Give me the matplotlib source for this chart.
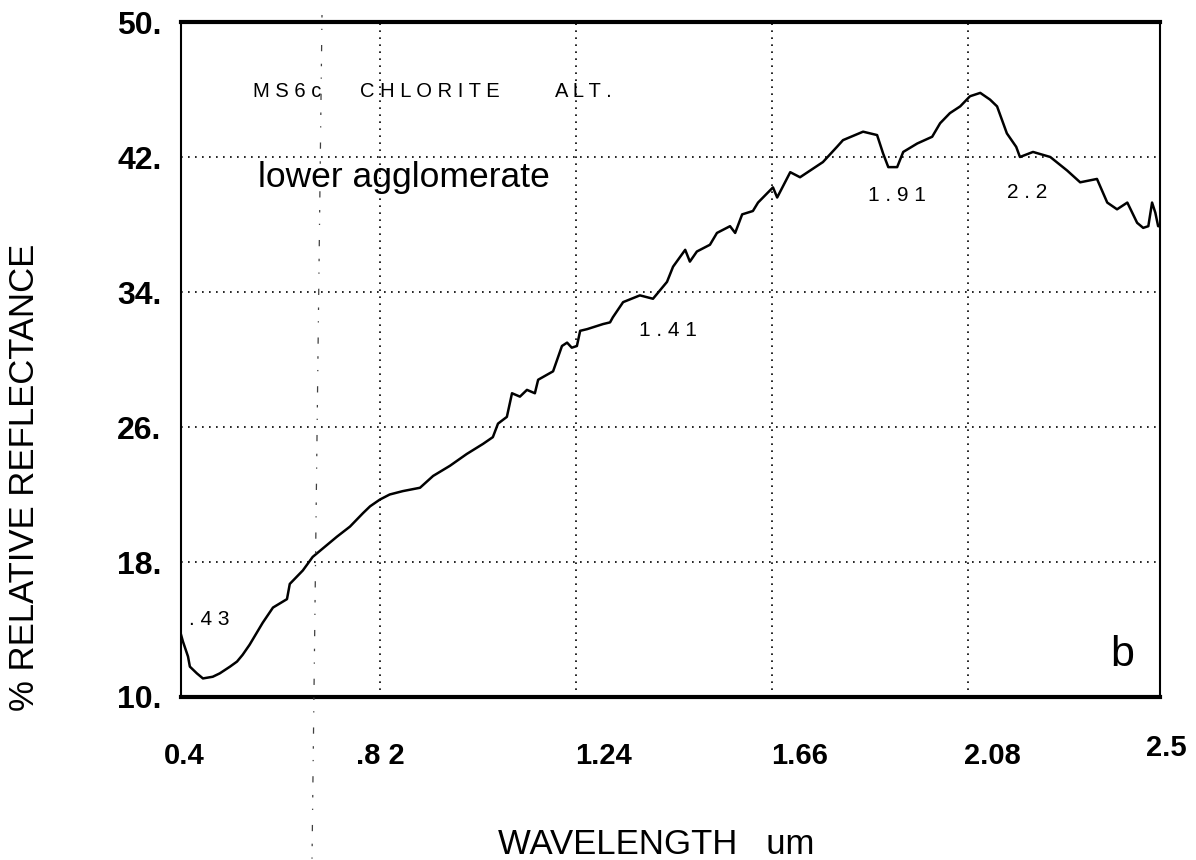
import matplotlib
matplotlib.use("Agg")
import matplotlib.pyplot as plt
from matplotlib.lines import Line2D

plt.rcParams["font.family"] = ["Liberation Sans", "DejaVu Sans"]

# spectrum (wavelength um, % reflectance)
wavelength = [0.394, 0.398, 0.409, 0.413, 0.428, 0.441, 0.462, 0.477, 0.499, 0.514,
              0.526, 0.541, 0.569, 0.591, 0.621, 0.627, 0.655, 0.676, 0.728, 0.756,
              0.784, 0.799, 0.820, 0.841, 0.869, 0.906, 0.934,
              0.970, 1.006, 1.041, 1.062, 1.073, 1.092, 1.103, 1.120, 1.135, 1.152,
              1.159, 1.191, 1.210, 1.221, 1.231, 1.242, 1.249, 1.264, 1.298, 1.313,
              1.319, 1.341, 1.377, 1.405, 1.435, 1.448, 1.474, 1.484, 1.499, 1.527,
              1.542, 1.570, 1.581, 1.596, 1.619, 1.630, 1.662, 1.671, 1.699,
              1.720, 1.769, 1.799, 1.812, 1.855,
              1.885, 1.898, 1.909, 1.928, 1.941, 1.971, 2.003, 2.020, 2.041, 2.063,
              2.084, 2.106, 2.127, 2.142, 2.163, 2.183, 2.191, 2.219, 2.256, 2.292,
              2.320, 2.356, 2.378, 2.399, 2.421, 2.442, 2.455, 2.466, 2.474, 2.481,
              2.487, 2.491]
reflectance = [13.7, 13.3, 12.4, 11.8, 11.4, 11.1, 11.2, 11.4, 11.8, 12.1,
               12.5, 13.1, 14.4, 15.3, 15.8, 16.7, 17.5, 18.3, 19.5, 20.1,
               20.9, 21.3, 21.7, 22.0, 22.2, 22.4, 23.1,
               23.7, 24.4, 25.0, 25.4, 26.2, 26.6, 28.0, 27.8, 28.2, 28.0,
               28.8, 29.3, 30.8, 31.0, 30.7, 30.8, 31.7, 31.8, 32.1, 32.2,
               32.5, 33.4, 33.8, 33.6, 34.6, 35.5, 36.5, 35.8, 36.4, 36.8,
               37.5, 37.9, 37.5, 38.6, 38.8, 39.3, 40.2, 39.6, 41.1,
               40.8, 41.7, 42.6, 43.0, 43.5,
               43.3, 42.2, 41.4, 41.4, 42.3, 42.8, 43.2, 44.0, 44.6, 45.0,
               45.6, 45.8, 45.4, 45.0, 43.4, 42.6, 42.0, 42.3, 42.0, 41.2,
               40.5, 40.7, 39.3, 38.9, 39.3, 38.1, 37.8, 37.9, 39.3, 38.7,
               37.9, 37.9]

x_grid = [0.82, 1.24, 1.66, 2.08]
y_ticks = [10, 18, 26, 34, 42, 50]
y_tick_labels = ["10.", "18.", "26.", "34.", "42.", "50."]
x_tick_labels = ["0.4", ".8 2", "1.24", "1.66", "2.08", "2.5"]
x_tick_at = [0.402, 0.82, 1.298, 1.718, 2.133, 2.504]

# absorption features marked on the plot: label, x, y
features = [(".43", 0.454, 14.6), ("1.41", 1.437, 31.7),
            ("1.91", 1.928, 39.7), ("2.2", 2.206, 39.9)]

fig = plt.figure(figsize=(11.96, 8.6), dpi=100)
ax = fig.add_axes([181 / 1196, 1 - 697 / 860, 979 / 1196, 675 / 860])

ax.plot(wavelength, reflectance, color="black", lw=1.8)

ax.set_xlim(0.394, 2.491)
ax.set_ylim(10, 50)

for xg in x_grid:
    ax.axvline(xg, color="black", lw=1.2, ls=(0, (1, 3.2)))
for yg in y_ticks[1:-1]:
    ax.axhline(yg, color="black", lw=1.2, ls=(0, (1, 3.2)))

ax.set_xticks([])
ax.set_yticks(y_ticks)
ax.set_yticklabels(y_tick_labels, fontsize=23, fontweight="bold")
ax.tick_params(axis="y", length=0, pad=14)

for lab, xt in zip(x_tick_labels, x_tick_at):
    yt = 6.95 if lab == "2.5" else 6.5
    ax.text(xt, yt, lab, ha="center", va="center", fontsize=21,
            fontweight="bold", clip_on=False)

for side in ["top", "bottom"]:
    ax.spines[side].set_linewidth(3.0)
for side in ["left", "right"]:
    ax.spines[side].set_linewidth(1.5)

ax.text(0.548, 45.9, "M S 6 c", ha="left", va="center", fontsize=14.5)
ax.text(0.777, 45.9, "C H L O R I T E", ha="left", va="center", fontsize=14.5)
ax.text(1.195, 45.9, "A L T .", ha="left", va="center", fontsize=14.5)
ax.text(0.559, 40.2, "lower agglomerate", ha="left", va="baseline", fontsize=25.5)

for lab, fx, fy in features:
    ax.text(fx, fy, " ".join(lab), ha="center", va="center", fontsize=15)

ax.text(2.41, 12.5, "b", ha="center", va="center", fontsize=31)

fig.text(25 / 1196, 1 - 477 / 860, "% RELATIVE REFLECTANCE", rotation=90,
         ha="center", va="center", fontsize=25)
fig.text(656 / 1196, 1 - 845 / 860, "WAVELENGTH   um", ha="center",
         va="center", fontsize=25)

# faint broken vertical mark left on the scan
fig.add_artist(Line2D([322 / 1196, 312 / 1196], [1 - 15 / 860, 0.0],
                      transform=fig.transFigure, color="0.25", lw=0.9,
                      dashes=[2, 9, 1, 12, 5, 10]))

fig.savefig("out.png", dpi=100)
